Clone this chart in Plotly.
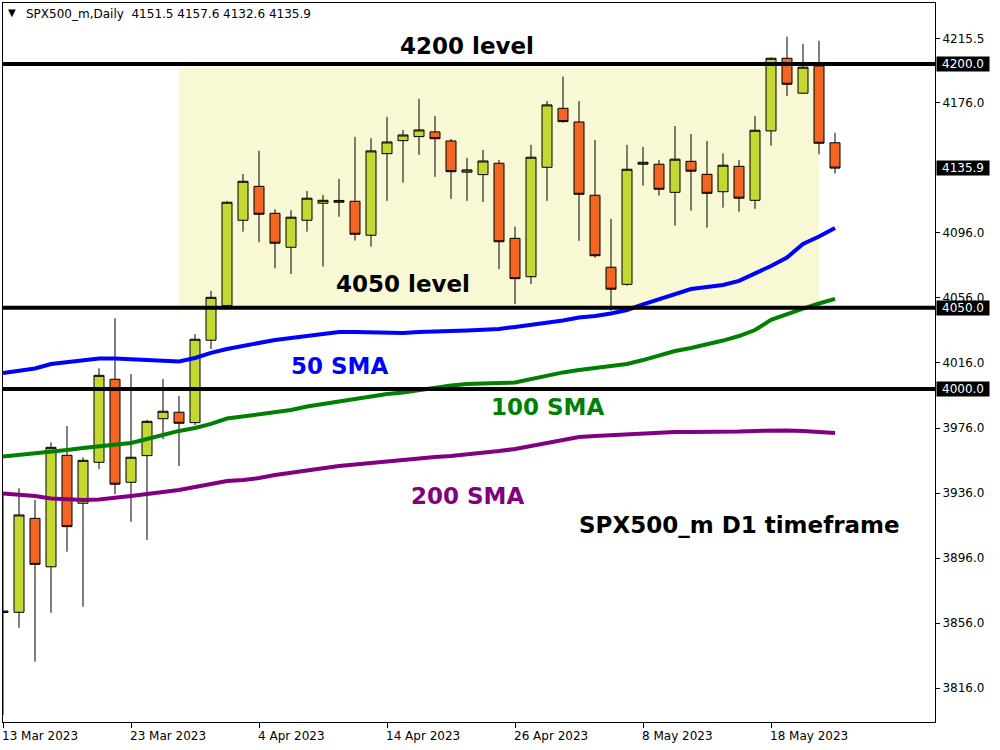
import plotly.graph_objects as go

# ---------------- data ----------------
dates = [
    "2023-03-13", "2023-03-14", "2023-03-15", "2023-03-16", "2023-03-17",
    "2023-03-20", "2023-03-21", "2023-03-22", "2023-03-23", "2023-03-24",
    "2023-03-27", "2023-03-28", "2023-03-29", "2023-03-30", "2023-03-31",
    "2023-04-03", "2023-04-04", "2023-04-05", "2023-04-06", "2023-04-07",
    "2023-04-10", "2023-04-11", "2023-04-12", "2023-04-13", "2023-04-14",
    "2023-04-17", "2023-04-18", "2023-04-19", "2023-04-20", "2023-04-21",
    "2023-04-24", "2023-04-25", "2023-04-26", "2023-04-27", "2023-04-28",
    "2023-05-01", "2023-05-02", "2023-05-03", "2023-05-04", "2023-05-05",
    "2023-05-08", "2023-05-09", "2023-05-10", "2023-05-11", "2023-05-12",
    "2023-05-15", "2023-05-16", "2023-05-17", "2023-05-18", "2023-05-19",
    "2023-05-22", "2023-05-23", "2023-05-24",
]

opens = [
    3863.4, 3862.6, 3920.4, 3890.6, 3959.2, 3929.7, 3954.9, 4006.0, 3942.6, 3959.0,
    3981.7, 3985.7, 3979.3, 4030.0, 4051.3, 4103.8, 4124.7, 4108.1, 4087.2, 4103.8,
    4114.3, 4114.9, 4115.5, 4094.6, 4144.8, 4152.8, 4155.3, 4158.2, 4152.6, 4133.4,
    4131.9, 4138.9, 4092.7, 4069.1, 4136.4, 4172.7, 4164.3, 4119.2, 4074.9, 4064.4,
    4138.3, 4138.3, 4121.0, 4140.1, 4132.1, 4121.4, 4137.0, 4116.1, 4158.8, 4203.5,
    4182.0, 4198.8, 4151.5,
]
highs = [
    3936.6, 3938.9, 3931.7, 3967.2, 3977.2, 3958.0, 4012.7, 4043.5, 4009.2, 3980.9,
    4006.2, 3995.7, 4033.8, 4060.3, 4115.7, 4132.3, 4146.5, 4110.6, 4110.0, 4121.8,
    4119.4, 4129.2, 4155.1, 4154.3, 4167.4, 4159.4, 4178.5, 4168.0, 4153.8, 4142.2,
    4147.1, 4140.9, 4099.9, 4150.2, 4177.2, 4192.2, 4177.2, 4153.2, 4104.6, 4150.2,
    4148.9, 4140.9, 4161.8, 4156.9, 4152.6, 4145.0, 4140.9, 4168.0, 4204.1, 4216.8,
    4212.3, 4214.2, 4157.6,
]
lows = [
    3799.4, 3853.1, 3832.2, 3862.3, 3899.9, 3866.0, 3950.8, 3935.2, 3918.3, 3907.1,
    3969.2, 3952.6, 3977.8, 4024.6, 4049.0, 4096.8, 4090.3, 4074.3, 4070.8, 4096.8,
    4075.3, 4106.0, 4091.3, 4087.6, 4115.7, 4127.0, 4144.0, 4130.5, 4116.9, 4115.7,
    4115.1, 4073.8, 4052.3, 4064.6, 4115.7, 4163.9, 4091.1, 4080.8, 4048.2, 4063.5,
    4125.1, 4119.0, 4100.5, 4109.7, 4099.3, 4111.6, 4109.1, 4110.8, 4149.7, 4180.3,
    4181.5, 4144.4, 4132.6,
]
closes = [
    3862.5, 3922.5, 3892.1, 3964.1, 3915.3, 3956.1, 4008.4, 3941.4, 3958.0, 3980.1,
    3986.3, 3978.9, 4030.6, 4056.4, 4114.9, 4127.8, 4107.5, 4089.7, 4105.7, 4117.4,
    4116.1, 4116.0, 4095.2, 4146.5, 4152.0, 4156.3, 4159.4, 4154.0, 4133.7, 4134.8,
    4140.3, 4090.6, 4067.9, 4142.6, 4174.8, 4164.5, 4119.8, 4082.0, 4061.4, 4135.2,
    4139.5, 4122.9, 4141.4, 4134.0, 4120.4, 4137.7, 4117.4, 4159.2, 4203.5, 4187.5,
    4198.0, 4151.2, 4135.9,
]

sma50 = [
    4009.8, 4011.1, 4012.6, 4015.4, 4016.6, 4017.8, 4018.8, 4018.8, 4018.2, 4017.5,
    4016.9, 4016.9, 4019.1, 4022.2, 4024.6, 4026.5, 4028.3, 4030.2, 4031.4, 4032.6,
    4033.8, 4035.1, 4035.1, 4034.8, 4034.5, 4034.5, 4035.1, 4035.7, 4035.7, 4036.0,
    4036.3, 4036.9, 4038.2, 4039.4, 4040.6, 4042.2, 4044.0, 4044.9, 4046.5, 4048.6,
    4052.0, 4055.1, 4058.8, 4061.5, 4062.8, 4064.0, 4066.5, 4070.8, 4075.7, 4080.9,
    4089.2, 4093.8, 4099.1,
]
sma100 = [
    3958.5, 3959.4, 3960.3, 3961.5, 3962.5, 3963.7, 3964.6, 3965.5, 3966.8, 3969.2,
    3971.7, 3974.2, 3976.0, 3978.5, 3981.8, 3983.1, 3984.3, 3985.8, 3987.1, 3989.2,
    3990.8, 3992.0, 3994.2, 3995.7, 3996.9, 3997.8, 3999.4, 4000.9, 4002.2, 4003.1,
    4003.7, 4003.7, 4004.0, 4006.2, 4008.3, 4010.2, 4011.7, 4012.9, 4014.2, 4015.4,
    4017.8, 4020.6, 4023.4, 4025.2, 4027.4, 4029.8, 4032.6, 4036.3, 4042.5, 4046.2,
    4049.5, 4052.6, 4055.4,
]
sma200 = [
    3935.7, 3935.1, 3934.2, 3932.6, 3932.0, 3931.7, 3932.0, 3932.9, 3934.2, 3935.4,
    3936.6, 3937.8, 3939.7, 3941.5, 3943.4, 3944.0, 3945.2, 3947.1, 3948.6, 3949.8,
    3951.4, 3952.6, 3953.5, 3954.5, 3955.4, 3956.3, 3957.2, 3958.2, 3958.8, 3959.7,
    3960.9, 3961.8, 3963.1, 3964.9, 3967.1, 3968.9, 3970.5, 3971.1, 3971.7, 3972.3,
    3972.9, 3973.2, 3973.5, 3973.5, 3973.5, 3973.5, 3973.8, 3974.2, 3974.5, 3974.5,
    3974.2, 3973.5, 3972.9,
]

level_values = [4200.0, 4050.0, 4000.0]
level_names = ["4200 level", "4050 level"]
last_price = 4135.9
zone_start, zone_end = "2023-03-28", "2023-05-23"
zone_low, zone_high = 4051.2, 4197.6

xtick_dates = ["2023-03-13", "2023-03-23", "2023-04-04", "2023-04-14",
               "2023-04-26", "2023-05-08", "2023-05-18"]
xtick_text = ["13 Mar 2023", "23 Mar 2023", "4 Apr 2023", "14 Apr 2023",
              "26 Apr 2023", "8 May 2023", "18 May 2023"]
ytick_vals = [4215.5, 4176.0, 4096.0, 4056.0, 4016.0, 3976.0, 3936.0, 3896.0, 3856.0, 3816.0]

header = "SPX500_m,Daily  4151.5 4157.6 4132.6 4135.9"

# ---------------- styles ----------------
UP = "#C4D834"
DN = "#F26522"
ZONE = "#F8F8D4"
BLUE = "#0000FF"
GREEN = "#008000"
PURPLE = "#800080"
AXFONT = "DejaVu Sans"

fig = go.Figure()

fig.add_trace(go.Candlestick(
    x=dates, open=opens, high=highs, low=lows, close=closes,
    increasing=dict(line=dict(color="black", width=1), fillcolor=UP),
    decreasing=dict(line=dict(color="black", width=1), fillcolor=DN),
    whiskerwidth=0, hoverinfo="skip", showlegend=False,
))

for vals, col in [(sma200, PURPLE), (sma100, GREEN), (sma50, BLUE)]:
    fig.add_trace(go.Scatter(x=dates, y=vals, mode="lines",
                             line=dict(color=col, width=4),
                             hoverinfo="skip", showlegend=False))

shapes = [dict(type="rect", xref="x", yref="y", x0=zone_start, x1=zone_end,
               y0=zone_low, y1=zone_high, fillcolor=ZONE, line=dict(width=0),
               layer="below")]
for lv in level_values:
    shapes.append(dict(type="line", xref="paper", yref="y", x0=0, x1=1,
                       y0=lv, y1=lv, line=dict(color="black", width=4),
                       layer="above"))

annotations = []
# price boxes on the right axis
for lv in level_values + [last_price]:
    annotations.append(dict(
        xref="paper", yref="y", x=1, y=lv, xanchor="left", yanchor="middle",
        xshift=1, text=f"{lv:.1f}", showarrow=False, bgcolor="black",
        font=dict(family=AXFONT, size=12, color="white"),
        width=50, height=12, borderpad=1, align="center"))

# date labels (left-aligned at tick, MT4 style)
for d, t in zip(xtick_dates, xtick_text):
    annotations.append(dict(
        xref="x", yref="paper", x=d, y=0, xanchor="left", yanchor="middle",
        xshift=-3, yshift=-14, text=t, showarrow=False,
        font=dict(family=AXFONT, size=12, color="black")))

# header
annotations.append(dict(xref="paper", yref="paper", x=0.0225, y=0.9843,
                        xanchor="left", yanchor="middle", text=header,
                        showarrow=False,
                        font=dict(family=AXFONT, size=12, color="black")))
annotations.append(dict(xref="paper", yref="paper", x=0.0093, y=0.987,
                        xanchor="center", yanchor="middle", text="▼",
                        showarrow=False,
                        font=dict(family=AXFONT, size=10, color="black")))

BIG = dict(family="DejaVu Sans", size=23, weight="bold")
texts = [
    (level_names[0], "2023-04-21", 4211.2, "black"),
    (level_names[1], "2023-04-17", 4064.4, "black"),
    ("50 SMA", "2023-04-11", 4014.3, BLUE),
    ("100 SMA", "2023-04-28", 3989.1, GREEN),
    ("200 SMA", "2023-04-21", 3934.3, PURPLE),
    ("SPX500_m D1 timeframe", "2023-05-16", 3916.3, "black"),
]
for t, x, y, c in texts:
    annotations.append(dict(xref="x", yref="y", x=x, y=y, text=t,
                            showarrow=False, xanchor="center", yanchor="middle",
                            font=dict(BIG, color=c)))

fig.update_layout(
    width=1000, height=750,
    margin=dict(l=3, r=65, t=3, b=28),
    paper_bgcolor="white", plot_bgcolor="white",
    showlegend=False, boxgap=0.375, boxgroupgap=0,
    xaxis=dict(type="category", range=[0, 58.25],
               rangeslider=dict(visible=False), showgrid=False, zeroline=False,
               showline=True, mirror=True, linecolor="black", linewidth=1,
               ticks="outside", ticklen=5, tickcolor="black",
               tickvals=xtick_dates, showticklabels=False),
    yaxis=dict(side="right", range=[3795.1, 4237.5], showgrid=False,
               zeroline=False, showline=True, mirror=True, linecolor="black",
               linewidth=1, ticks="outside", ticklen=4, tickcolor="black",
               tickvals=ytick_vals, ticktext=[f"{v:.1f}" for v in ytick_vals],
               tickfont=dict(family=AXFONT, size=12, color="black")),
    shapes=shapes, annotations=annotations,
)

fig.write_html(
    "out.html",
    config={"displayModeBar": False},
    post_script="document.body.style.margin='0';document.body.style.overflow='hidden';",
)
